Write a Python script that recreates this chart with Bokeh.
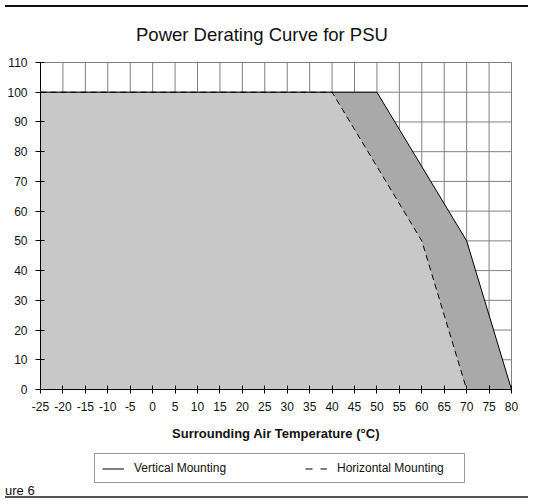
from bokeh.plotting import figure
from bokeh.models import FixedTicker, Legend, LegendItem, Div, Range1d
from bokeh.layouts import column
from bokeh.embed import file_html
from bokeh.resources import INLINE

# ---- data ----
title_text = "Power Derating Curve for PSU"
x_title = "Surrounding Air Temperature (°C)"
figure_note = "ure 6"

x_ticks = list(range(-25, 81, 5))
y_ticks = list(range(0, 111, 10))
x_tick_labels = [str(t) for t in x_ticks]
y_tick_labels = [str(t) for t in y_ticks]

vertical_temp = [-25, 50, 70, 80]
vertical_power = [100, 100, 50, 0]
horizontal_temp = [-25, 40, 60, 70]
horizontal_power = [100, 100, 50, 0]

legend_labels = ["Vertical Mounting", "Horizontal Mounting"]

FONT = "Liberation Sans"
W = 523
H_TOP = 40
H1 = 394
H2 = 39
X_MIN, X_MAX = x_ticks[0], x_ticks[-1]
Y_MIN, Y_MAX = y_ticks[0], y_ticks[-1]
NAN = float("nan")

# ---------------- title strip ----------------
title_div = Div(text=title_text, width=W, height=H_TOP,
                styles={"box-sizing": "border-box", "border-top": "2px solid #111111",
                        "font-family": FONT, "font-size": "18.5px", "line-height": "20px",
                        "color": "#111111", "padding-top": "18px", "padding-left": "131px",
                        "overflow": "hidden", "white-space": "nowrap"})

# ---------------- main chart ----------------
p = figure(width=W, height=H1, x_range=Range1d(X_MIN, X_MAX), y_range=Range1d(Y_MIN, Y_MAX),
           output_backend="svg", toolbar_location=None, tools="",
           min_border_left=40, min_border_right=12, min_border_top=12, min_border_bottom=55)
p.title.visible = False
p.background_fill_color = "white"
p.border_fill_color = "white"
p.outline_line_color = "#808080"
p.outline_line_width = 1

# grid drawn as glyphs so the fills cover it
p.xgrid.visible = False
p.ygrid.visible = False
p.segment(x0=x_ticks, y0=Y_MIN, x1=x_ticks, y1=Y_MAX, line_color="#808080", line_width=1)
p.segment(x0=X_MIN, y0=y_ticks, x1=X_MAX, y1=y_ticks, line_color="#808080", line_width=1)

p.xaxis.ticker = FixedTicker(ticks=x_ticks)
p.yaxis.ticker = FixedTicker(ticks=y_ticks)
p.xaxis.major_label_overrides = dict(zip(x_ticks, x_tick_labels))
p.yaxis.major_label_overrides = dict(zip(y_ticks, y_tick_labels))
for ax in (p.xaxis, p.yaxis):
    ax.axis_line_color = "black"
    ax.axis_line_width = 1
    ax.major_tick_line_color = "black"
    ax.major_tick_in = 4
    ax.minor_tick_line_color = None
    ax.major_label_text_font = FONT
    ax.major_label_text_font_size = "12px"
    ax.major_label_text_color = "#111111"
    ax.major_label_standoff = 8
p.xaxis.major_tick_out = 4
p.yaxis.major_tick_out = 5

p.xaxis.axis_label = x_title
p.xaxis.axis_label_text_font = FONT
p.xaxis.axis_label_text_font_size = "13px"
p.xaxis.axis_label_text_font_style = "bold"
p.xaxis.axis_label_text_color = "#111111"
p.xaxis.axis_label_standoff = 12

# fills
p.varea(x=vertical_temp, y1=0, y2=vertical_power, fill_color="#a9a9a9")
p.varea(x=horizontal_temp, y1=0, y2=horizontal_power, fill_color="#c8c8c8")

# curves
p.line(vertical_temp, vertical_power, line_color="black", line_width=1)
p.line(horizontal_temp, horizontal_power, line_color="black", line_width=1, line_dash="6 4")

# ---------------- legend strip ----------------
q = figure(width=W, height=H2, x_range=Range1d(0, 1), y_range=Range1d(0, 1),
           output_backend="svg", toolbar_location=None, tools="",
           x_axis_type=None, y_axis_type=None, min_border=0)
q.title = None
q.outline_line_color = None
q.background_fill_color = "white"
q.border_fill_color = "white"
q.xgrid.visible = False
q.ygrid.visible = False

s_v = q.line(x=[NAN], y=[NAN], line_color="black", line_width=1)
s_h = q.line(x=[NAN], y=[NAN], line_color="black", line_width=1, line_dash="7 8")
legend = Legend(items=[LegendItem(label=legend_labels[0], renderers=[s_v]),
                       LegendItem(label=legend_labels[1], renderers=[s_h])],
                location=(54, 0), orientation="horizontal", padding=7, spacing=51,
                glyph_width=22, glyph_height=13, label_height=13, label_standoff=10,
                label_width=120, label_text_font=FONT, label_text_font_size="12px",
                label_text_color="#111111",
                border_line_color="#333333", border_line_width=1, margin=0)
q.add_layout(legend)

note = Div(text=figure_note, width=W, height=27,
           styles={"box-sizing": "border-box", "font-family": FONT, "font-size": "13px",
                   "line-height": "13px", "color": "#111111",
                   "border-bottom": "2px solid #555555",
                   "margin-top": "-12px", "padding-top": "13px", "overflow": "visible"})

layout = column(title_div, p, q, note, spacing=0)
open("out.html", "w").write(file_html(layout, INLINE))
